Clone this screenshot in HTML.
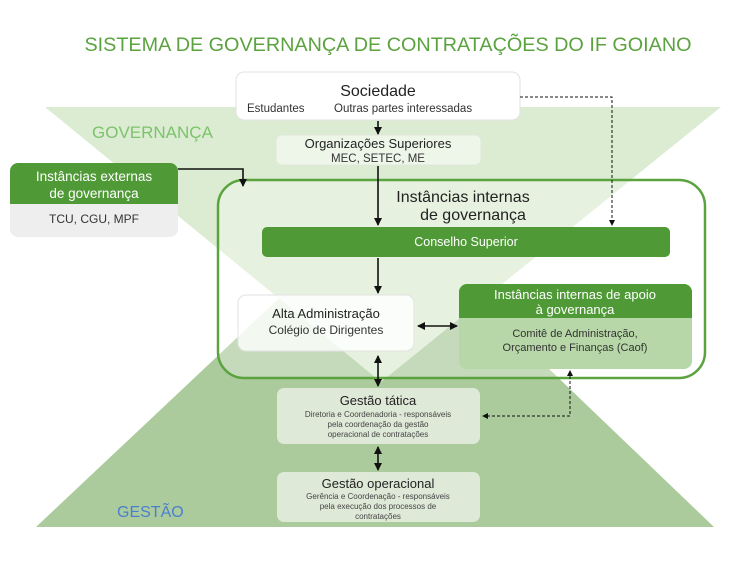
<!DOCTYPE html>
<html><head><meta charset="utf-8"><style>
body{margin:0;background:#fff;}
svg text{font-family:"Liberation Sans",sans-serif;}
</style></head><body>
<svg width="736" height="561" viewBox="0 0 736 561" xmlns="http://www.w3.org/2000/svg">
<defs>
<marker id="a" markerWidth="8" markerHeight="8" refX="7" refY="4" orient="auto-start-reverse" markerUnits="userSpaceOnUse"><path d="M0,0 L8,4 L0,8 Z" fill="#111"/></marker>
<marker id="s" markerWidth="6" markerHeight="6" refX="5" refY="3" orient="auto-start-reverse" markerUnits="userSpaceOnUse"><path d="M0,0 L6,3 L0,6 Z" fill="#111"/></marker>
</defs>
<rect width="736" height="561" fill="#fff"/>
<text x="388" y="51" text-anchor="middle" font-size="19.8" fill="#5aa33e">SISTEMA DE GOVERNANÇA DE CONTRATAÇÕES DO IF GOIANO</text>
<polygon points="378,205 36,527 714,527" fill="#abcb9c"/>
<polygon points="45,107 721,107 381,382" fill="#dbecd2"/>
<text x="92" y="138" font-size="17" fill="#7cc36b">GOVERNANÇA</text>
<text x="117" y="517" font-size="16" fill="#4a7fd0">GESTÃO</text>
<rect x="218" y="180" width="487" height="198" rx="26" fill="rgba(255,255,255,0.3)" stroke="#5aa33e" stroke-width="2.5"/>
<text x="463" y="202" text-anchor="middle" font-size="16" fill="#222">Instâncias internas</text>
<text x="473" y="220" text-anchor="middle" font-size="16" fill="#222">de governança</text>
<rect x="236" y="72" width="284" height="48" rx="8" fill="#fff" stroke="#e2e2e2"/>
<text x="378" y="96" text-anchor="middle" font-size="16" fill="#222">Sociedade</text>
<text x="247" y="112" font-size="11.5" fill="#333">Estudantes</text>
<text x="334" y="112" font-size="11.5" fill="#333">Outras partes interessadas</text>
<rect x="276" y="135" width="205" height="30" rx="6" fill="#eef6ea" stroke="#e0e8dc"/>
<text x="378" y="148" text-anchor="middle" font-size="13" fill="#222">Organizações Superiores</text>
<text x="378" y="162" text-anchor="middle" font-size="11.5" fill="#333">MEC, SETEC, ME</text>
<rect x="10" y="163" width="168" height="74" rx="8" fill="#eeeeee"/>
<path d="M10,204 V171 a8,8 0 0 1 8,-8 H170 a8,8 0 0 1 8,8 V204 Z" fill="#4f9a36"/>
<text x="94" y="181" text-anchor="middle" font-size="13.5" fill="#fff">Instâncias externas</text>
<text x="94" y="198" text-anchor="middle" font-size="13.5" fill="#fff">de governança</text>
<text x="94" y="223" text-anchor="middle" font-size="12" fill="#333">TCU, CGU, MPF</text>
<rect x="262" y="227" width="408" height="30" rx="5" fill="#4f9a36"/>
<text x="466" y="246" text-anchor="middle" font-size="12.5" fill="#fff">Conselho Superior</text>
<rect x="238" y="295" width="176" height="56" rx="8" fill="rgba(255,255,255,0.8)" stroke="#e2e2e2"/>
<text x="326" y="318" text-anchor="middle" font-size="13" fill="#222">Alta Administração</text>
<text x="326" y="334" text-anchor="middle" font-size="12" fill="#333">Colégio de Dirigentes</text>
<rect x="459" y="284" width="233" height="85" rx="8" fill="#b7d7a8"/>
<path d="M459,318 V292 a8,8 0 0 1 8,-8 H684 a8,8 0 0 1 8,8 V318 Z" fill="#4f9a36"/>
<text x="575" y="299" text-anchor="middle" font-size="13" fill="#fff">Instâncias internas de apoio</text>
<text x="575" y="314" text-anchor="middle" font-size="13" fill="#fff">à governança</text>
<text x="575" y="337" text-anchor="middle" font-size="11" fill="#333">Comitê de Administração,</text>
<text x="575" y="351" text-anchor="middle" font-size="11" fill="#333">Orçamento e Finanças (Caof)</text>
<rect x="277" y="388" width="203" height="56" rx="7" fill="#dfe9d8"/>
<text x="378" y="405" text-anchor="middle" font-size="13" fill="#222">Gestão tática</text>
<text x="378" y="417" text-anchor="middle" font-size="8" fill="#444">Diretoria e Coordenadoria - responsáveis</text>
<text x="378" y="427" text-anchor="middle" font-size="8" fill="#444">pela coordenação da gestão</text>
<text x="378" y="437" text-anchor="middle" font-size="8" fill="#444">operacional de contratações</text>
<rect x="277" y="472" width="203" height="50" rx="7" fill="#dfe9d8"/>
<text x="378" y="488" text-anchor="middle" font-size="13" fill="#222">Gestão operacional</text>
<text x="378" y="499" text-anchor="middle" font-size="8" fill="#444">Gerência e Coordenação - responsáveis</text>
<text x="378" y="509" text-anchor="middle" font-size="8" fill="#444">pela execução dos processos de</text>
<text x="378" y="519" text-anchor="middle" font-size="8" fill="#444">contratações</text>
<g stroke="#111" stroke-width="1.6" fill="none">
<line x1="378" y1="121" x2="378" y2="134" marker-end="url(#a)"/>
<line x1="378" y1="166" x2="378" y2="225" marker-end="url(#a)"/>
<polyline points="178,169 243,169 243,186" marker-end="url(#a)"/>
<line x1="378" y1="258" x2="378" y2="293" marker-end="url(#a)"/>
<line x1="418" y1="326" x2="457" y2="326" marker-start="url(#a)" marker-end="url(#a)"/>
<line x1="378" y1="356" x2="378" y2="386" marker-start="url(#a)" marker-end="url(#a)"/>
<line x1="378" y1="447" x2="378" y2="470" marker-start="url(#a)" marker-end="url(#a)"/>
</g>
<g stroke="#111" stroke-width="1" fill="none" stroke-dasharray="3,2">
<polyline points="520,97 612,97 612,225" marker-end="url(#s)"/>
<polyline points="570,371 570,416 483,416" marker-start="url(#s)" marker-end="url(#s)"/>
</g>
</svg>
</body></html>
